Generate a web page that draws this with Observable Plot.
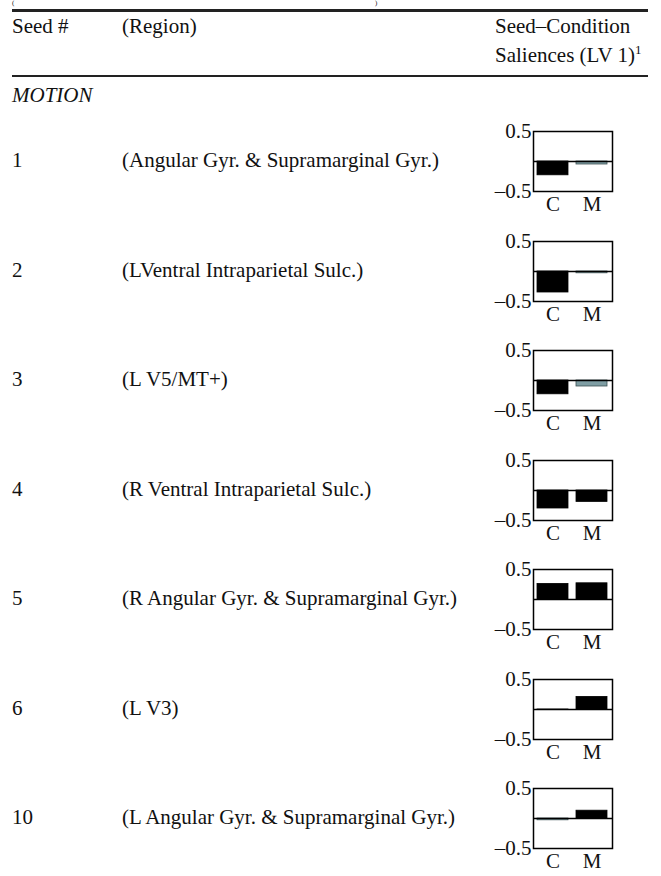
<!DOCTYPE html>
<html>
<head>
<meta charset="utf-8">
<script src="https://cdn.jsdelivr.net/npm/d3@7"></script>
<script src="https://cdn.jsdelivr.net/npm/@observablehq/plot@0.6"></script>
<style>
  html, body { margin: 0; padding: 0; background: #fff; }
  #page { position: relative; width: 661px; height: 876px; overflow: hidden;
          font-family: "Liberation Serif", "Times New Roman", serif; font-size: 21px; color: #111; }
  .t { position: absolute; white-space: nowrap; line-height: 1; }
  .rule { position: absolute; left: 12px; width: 636px; background: #222; }
  .chart { position: absolute; }
</style>
</head>
<body>
<div id="page"></div>
<script>
// ---- data ----
const seeds = ["1", "2", "3", "4", "5", "6", "10"];
const regions = [
  "(Angular Gyr. & Supramarginal Gyr.)",
  "(LVentral Intraparietal Sulc.)",
  "(L V5/MT+)",
  "(R Ventral Intraparietal Sulc.)",
  "(R Angular Gyr. & Supramarginal Gyr.)",
  "(L V3)",
  "(L Angular Gyr. & Supramarginal Gyr.)"
];
const conditions = ["C", "M"];
const salienceC = [-0.23, -0.35, -0.23, -0.30, 0.26, -0.01, -0.03];
const salienceM = [-0.05, -0.03, -0.10, -0.19, 0.27, 0.21, 0.13];
const reliableC = [true, true, true, true, true, true, false];
const reliableM = [false, false, false, true, true, true, true];
const yTicks = [-0.5, 0.5];
const yTickLabels = ["\u20130.5", "0.5"];
const groupLabel = "MOTION";
const headers = ["Seed #", "(Region)", "Seed\u2013Condition", "Saliences (LV 1)"];

const page = document.getElementById("page");
function addText(txt, x, baseline, extra = {}, size = 21) {
  const d = document.createElement("div");
  d.className = "t";
  d.textContent = txt;
  d.style.left = x + "px";
  d.style.fontSize = size + "px";
  d.style.top = (baseline - size * 0.891) + "px";
  Object.assign(d.style, extra);
  page.appendChild(d);
  return d;
}
function addRule(y, h) {
  const r = document.createElement("div");
  r.className = "rule";
  r.style.top = y + "px";
  r.style.height = h + "px";
  page.appendChild(r);
}

// remnants of the caption line above the table
addText("(", 12, 6, {}, 7);
addText(")", 375, 6, {}, 7);

addRule(9, 2.5);
addText(headers[0], 12, 35);
addText(headers[1], 122, 35);
addText(headers[2], 495, 35);
const sal = addText(headers[3], 495, 62);
const sup = document.createElement("span");
sup.textContent = "1";
sup.style.fontSize = "13px";
sup.style.verticalAlign = "8px";
sal.appendChild(sup);
addRule(75, 2.2);
addText(groupLabel, 12, 103.5, { fontStyle: "italic" });

const grey = "#7f9ea4";
seeds.forEach((s, i) => {
  const boxTop = 131 + Math.round(i * 109.5);
  addText(s, 12, boxTop + 38);
  addText(regions[i], 122, boxTop + 38);

  const data = [
    { cond: conditions[0], value: salienceC[i], reliable: reliableC[i] },
    { cond: conditions[1], value: salienceM[i], reliable: reliableM[i] }
  ];
  const mt = 12, mb = 28, ml = 43, mr = 8;
  const chart = Plot.plot({
    width: 130,
    height: 60 + mt + mb,
    marginTop: mt, marginBottom: mb, marginLeft: ml, marginRight: mr,
    style: { fontFamily: "Liberation Serif, Times New Roman, serif", fontSize: "21px",
             background: "transparent", overflow: "visible", color: "#111" },
    x: { domain: conditions, paddingInner: 0.2, paddingOuter: 0.1, label: null },
    y: { domain: [-0.5, 0.5], label: null },
    marks: [
      Plot.barY(data, {
        x: "cond", y: "value",
        fill: d => d.reliable ? "#000" : grey,
        stroke: d => d.reliable ? "#000" : "#3d5054",
        strokeWidth: 0.8
      }),
      Plot.ruleY([0], { stroke: "#000", strokeWidth: 1.5 }),
      Plot.frame({ stroke: "#000", strokeWidth: 1.5 }),
      Plot.axisY(yTicks, { tickSize: 0, tickPadding: 2, tickFormat: (d, k) => yTickLabels[k], fontSize: 21 }),
      Plot.axisX({ tickSize: 0, tickPadding: 5, fontSize: 21 })
    ]
  });
  chart.classList.add("chart");
  chart.style.left = (533 - ml) + "px";
  chart.style.top = (boxTop - mt) + "px";
  page.appendChild(chart);
});
</script>
</body>
</html>
